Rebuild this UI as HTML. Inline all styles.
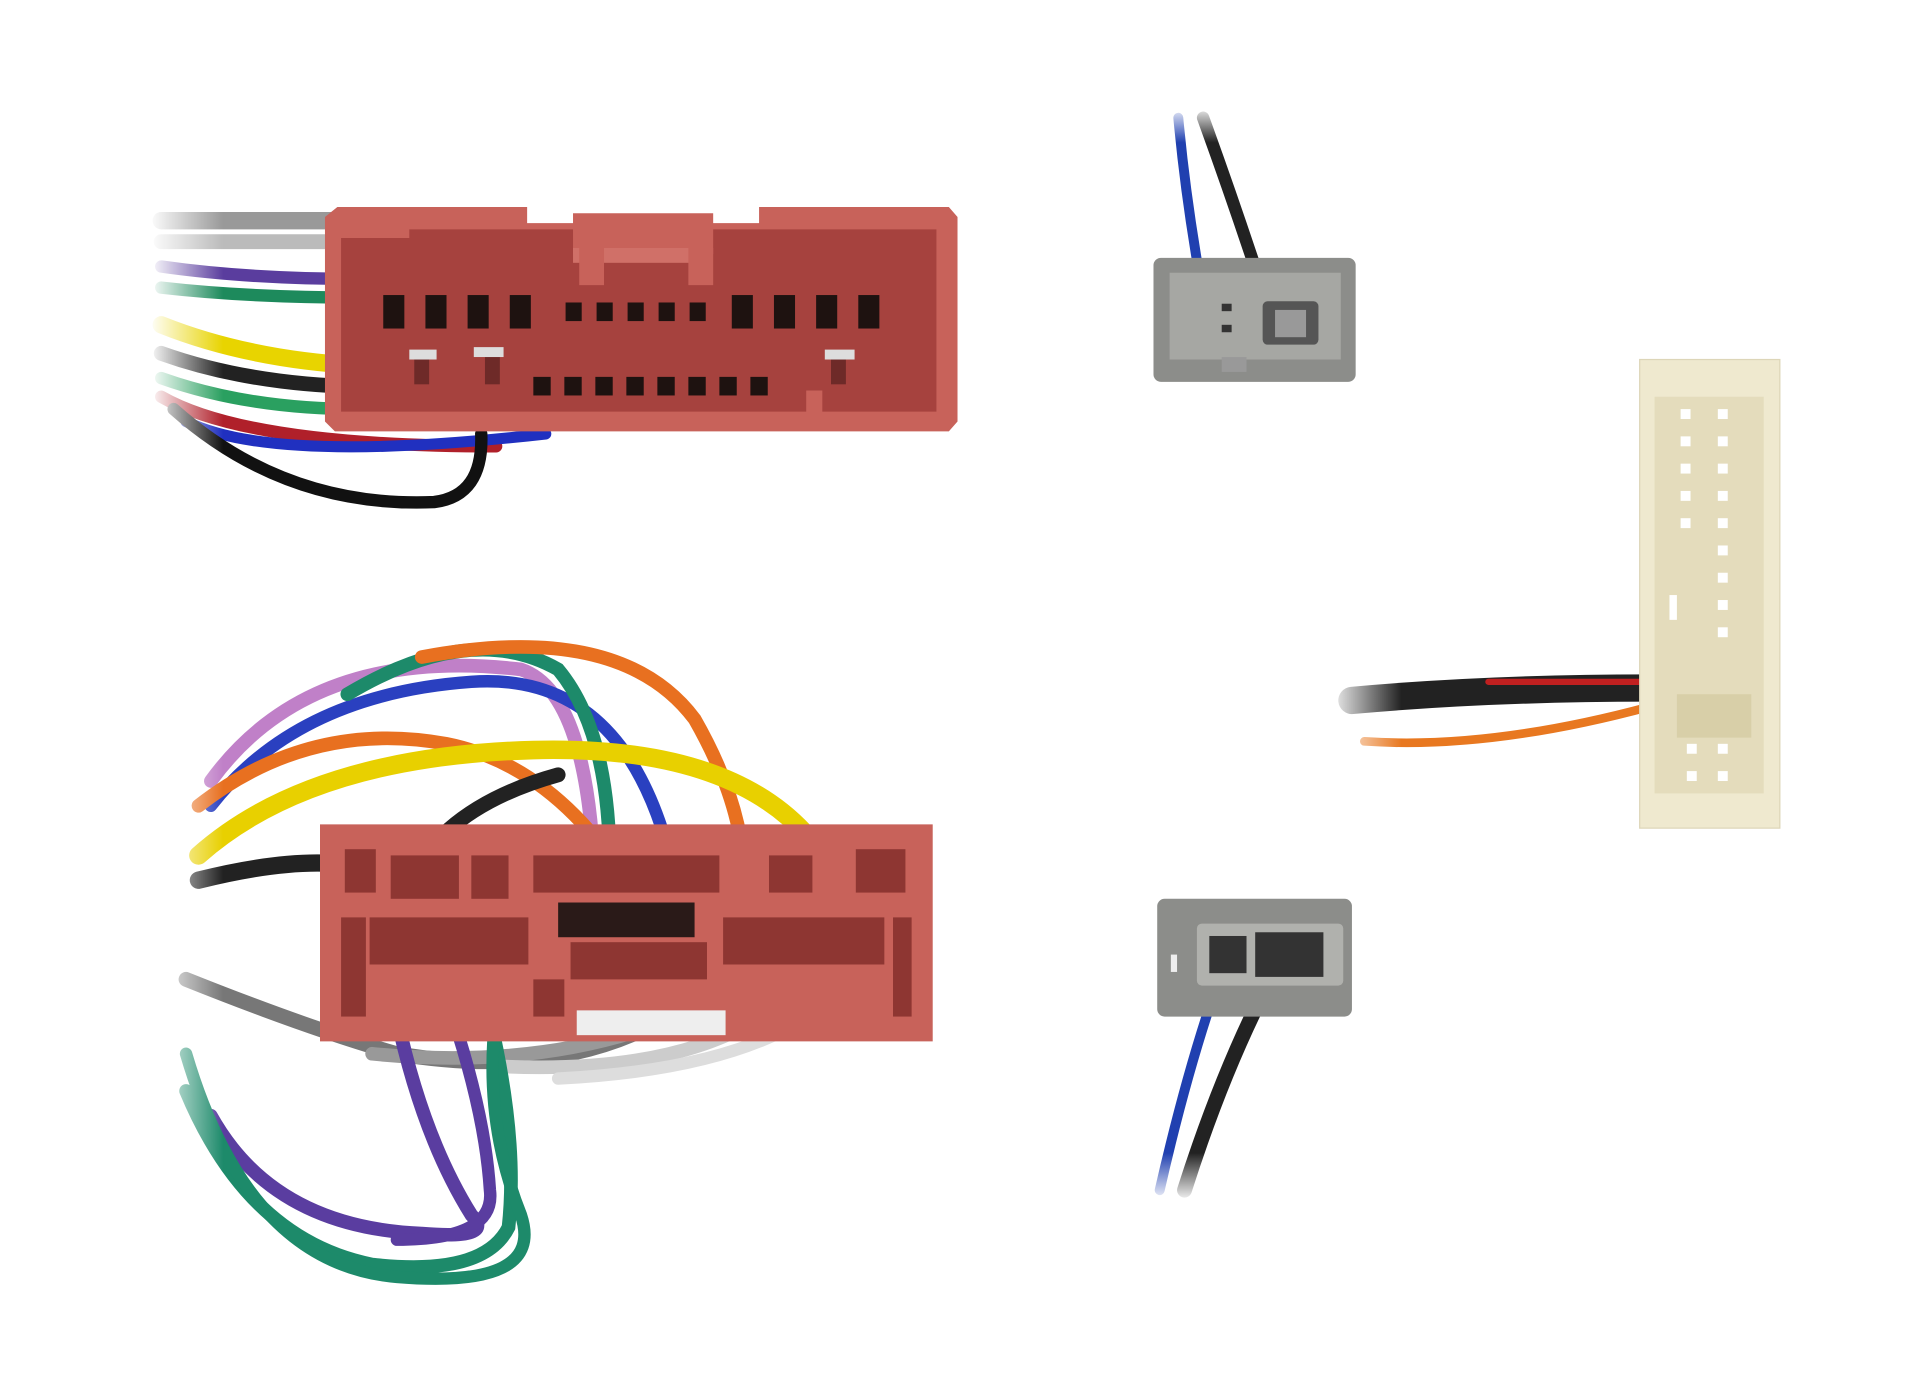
<!DOCTYPE html>
<html><head><meta charset="utf-8"><style>html,body{margin:0;padding:0;background:#fff;}svg{display:block}</style></head>
<body>
<svg width="1920" height="1386" viewBox="0 0 1548 1118" preserveAspectRatio="none" xmlns="http://www.w3.org/2000/svg">
<defs>
<linearGradient id="fadeL" x1="0" x2="1"><stop offset="0" stop-color="#fff" stop-opacity="1"/><stop offset="1" stop-color="#fff" stop-opacity="0"/></linearGradient>
<linearGradient id="fadeU" x1="0" x2="0" y1="0" y2="1"><stop offset="0" stop-color="#fff" stop-opacity="1"/><stop offset="1" stop-color="#fff" stop-opacity="0"/></linearGradient>
<linearGradient id="fadeD" x1="0" x2="0" y1="1" y2="0"><stop offset="0" stop-color="#fff" stop-opacity="1"/><stop offset="1" stop-color="#fff" stop-opacity="0"/></linearGradient>
</defs>
<g fill="none" stroke-linecap="round">
<!-- top connector wires -->
<path d="M130 178 H290" stroke="#999" stroke-width="14"/>
<path d="M130 195 H290" stroke="#bbb" stroke-width="12"/>
<path d="M130 215 Q200 225 290 225" stroke="#5a3d9e" stroke-width="10"/>
<path d="M130 232 Q200 240 290 240" stroke="#1d8a5c" stroke-width="10"/>
<path d="M130 262 Q200 290 290 295" stroke="#e8d400" stroke-width="14"/>
<path d="M130 285 Q200 310 290 312" stroke="#222" stroke-width="12"/>
<path d="M130 305 Q200 330 290 330" stroke="#2aa060" stroke-width="10"/>
<path d="M130 320 Q200 360 400 360" stroke="#b0202a" stroke-width="10"/>
<path d="M150 340 Q220 375 440 350" stroke="#2030c0" stroke-width="9"/>
<path d="M140 330 Q230 410 350 405 Q390 400 388 350" stroke="#111" stroke-width="10"/>
<!-- grey top wires -->
<path d="M950 95 Q955 150 965 210" stroke="#2040b0" stroke-width="8"/>
<path d="M970 95 Q990 150 1010 210" stroke="#222" stroke-width="10"/>
<!-- cream connector wires -->
<path d="M1090 565 Q1200 555 1330 555" stroke="#222" stroke-width="22"/>
<path d="M1200 550 H1330" stroke="#c02020" stroke-width="5"/>
<path d="M1100 598 Q1200 605 1330 570" stroke="#e87820" stroke-width="7"/>
<!-- bottom red connector wires -->
<path d="M170 630 Q250 520 420 540 Q480 560 480 745" stroke="#c080c8" stroke-width="11"/>
<path d="M170 650 Q240 560 380 550 Q520 540 550 740" stroke="#2a40c0" stroke-width="10"/>
<path d="M280 560 Q380 500 450 540 Q500 600 490 745" stroke="#1d8a6a" stroke-width="11"/>
<path d="M340 530 Q500 500 560 580 Q600 650 600 710" stroke="#e87020" stroke-width="11"/>
<path d="M160 650 Q250 580 360 600 Q460 620 525 745" stroke="#e87020" stroke-width="11"/>
<path d="M160 690 Q250 610 430 605 Q620 600 675 710" stroke="#e8d000" stroke-width="15"/>
<path d="M160 710 Q280 680 330 715" stroke="#222" stroke-width="14"/>
<path d="M330 710 Q360 650 450 625" stroke="#222" stroke-width="12"/>
<path d="M150 790 Q250 830 320 850 Q500 880 600 770" stroke="#777" stroke-width="12"/>
<path d="M300 850 Q500 870 635 770" stroke="#999" stroke-width="11"/>
<path d="M400 860 Q600 870 665 770" stroke="#ccc" stroke-width="11"/>
<path d="M450 870 Q650 860 700 770" stroke="#ddd" stroke-width="10"/>
<path d="M310 765 Q330 900 380 980 Q400 1000 340 995 Q220 990 170 900" stroke="#5a3da0" stroke-width="11"/>
<path d="M345 765 Q390 880 395 960 Q400 1000 320 1000" stroke="#5a3da0" stroke-width="10"/>
<path d="M380 765 Q420 900 410 990 Q390 1030 300 1020 Q200 1000 150 880" stroke="#1d8a6a" stroke-width="11"/>
<path d="M410 765 Q380 880 420 980 Q440 1040 320 1030 Q200 1020 150 850" stroke="#1d8a6a" stroke-width="10"/>
<!-- bottom grey wires -->
<path d="M990 770 Q960 850 935 960" stroke="#2040b0" stroke-width="8"/>
<path d="M1035 770 Q990 850 955 960" stroke="#222" stroke-width="12"/>
</g>
<!-- fades -->
<rect x="120" y="150" width="60" height="280" fill="url(#fadeL)"/>
<rect x="120" y="560" width="60" height="500" fill="url(#fadeL)"/>
<rect x="1070" y="520" width="60" height="110" fill="url(#fadeL)"/>
<rect x="920" y="85" width="120" height="30" fill="url(#fadeU)"/>
<rect x="910" y="930" width="120" height="40" fill="url(#fadeD)"/>

<!-- top red connector -->
<path d="M262 175 L272 167 L425 167 L425 180 L462 180 L462 172 L575 172 L575 180 L612 180 L612 167 L765 167 L772 175 L772 340 L765 348 L270 348 L262 340 Z" fill="#c8625a"/>
<path d="M275 192 H330 V185 H462 V205 H575 V185 H755 V332 H275 Z" fill="#a6423e"/>
<rect x="462" y="200" width="112" height="12" fill="#d07068"/>
<rect x="467" y="200" width="20" height="30" fill="#c8625a"/>
<rect x="555" y="200" width="20" height="30" fill="#c8625a"/>
<g fill="#1e1210">
<rect x="309" y="238" width="17" height="27"/><rect x="343" y="238" width="17" height="27"/><rect x="377" y="238" width="17" height="27"/><rect x="411" y="238" width="17" height="27"/>
<rect x="456" y="244" width="13" height="15"/><rect x="481" y="244" width="13" height="15"/><rect x="506" y="244" width="13" height="15"/><rect x="531" y="244" width="13" height="15"/><rect x="556" y="244" width="13" height="15"/>
<rect x="590" y="238" width="17" height="27"/><rect x="624" y="238" width="17" height="27"/><rect x="658" y="238" width="17" height="27"/><rect x="692" y="238" width="17" height="27"/>
<rect x="430" y="304" width="14" height="15"/><rect x="455" y="304" width="14" height="15"/><rect x="480" y="304" width="14" height="15"/><rect x="505" y="304" width="14" height="15"/><rect x="530" y="304" width="14" height="15"/><rect x="555" y="304" width="14" height="15"/><rect x="580" y="304" width="14" height="15"/><rect x="605" y="304" width="14" height="15"/>
</g>
<g fill="#6e2a28"><rect x="334" y="288" width="12" height="22"/><rect x="391" y="288" width="12" height="22"/><rect x="670" y="288" width="12" height="22"/></g>
<g fill="#ddd"><rect x="330" y="282" width="22" height="8"/><rect x="382" y="280" width="24" height="8"/><rect x="665" y="282" width="24" height="8"/></g>
<rect x="650" y="315" width="13" height="25" fill="#c8625a"/>

<!-- top grey connector -->
<rect x="930" y="208" width="163" height="100" rx="6" fill="#8c8d8a"/>
<rect x="943" y="220" width="138" height="70" fill="#a6a7a3"/>
<rect x="1018" y="243" width="45" height="35" rx="4" fill="#555"/>
<rect x="1028" y="250" width="25" height="22" fill="#999"/>
<rect x="985" y="245" width="8" height="6" fill="#333"/>
<rect x="985" y="262" width="8" height="6" fill="#333"/>
<rect x="985" y="288" width="20" height="12" fill="#999"/>

<!-- cream connector -->
<rect x="1322" y="290" width="113" height="378" fill="#efe9cf" stroke="#ddd6b8"/>
<rect x="1334" y="320" width="88" height="320" fill="#e4dcbc"/>
<g fill="#fff">
<rect x="1355" y="330" width="8" height="8"/><rect x="1355" y="352" width="8" height="8"/><rect x="1355" y="374" width="8" height="8"/><rect x="1355" y="396" width="8" height="8"/><rect x="1355" y="418" width="8" height="8"/>
<rect x="1385" y="330" width="8" height="8"/><rect x="1385" y="352" width="8" height="8"/><rect x="1385" y="374" width="8" height="8"/><rect x="1385" y="396" width="8" height="8"/><rect x="1385" y="418" width="8" height="8"/><rect x="1385" y="440" width="8" height="8"/><rect x="1385" y="462" width="8" height="8"/><rect x="1385" y="484" width="8" height="8"/><rect x="1385" y="506" width="8" height="8"/>
<rect x="1385" y="600" width="8" height="8"/><rect x="1385" y="622" width="8" height="8"/><rect x="1360" y="600" width="8" height="8"/><rect x="1360" y="622" width="8" height="8"/>
<rect x="1346" y="480" width="6" height="20"/>
</g>
<rect x="1352" y="560" width="60" height="35" fill="#d8cfa8"/>

<!-- bottom red connector -->
<path d="M258 665 H752 V840 H258 Z" fill="#c8625a"/>
<g fill="#8e3632">
<rect x="278" y="685" width="25" height="35"/><rect x="315" y="690" width="55" height="35"/><rect x="380" y="690" width="30" height="35"/>
<rect x="430" y="690" width="150" height="30"/><rect x="620" y="690" width="35" height="30"/><rect x="690" y="685" width="40" height="35"/>
<rect x="275" y="740" width="20" height="80"/><rect x="298" y="740" width="128" height="38"/><rect x="430" y="790" width="25" height="30"/>
<rect x="460" y="760" width="110" height="30"/><rect x="583" y="740" width="130" height="38"/><rect x="720" y="740" width="15" height="80"/>
</g>
<g fill="#2a1a18"><rect x="450" y="728" width="110" height="28"/></g>
<g fill="#eee"><rect x="465" y="815" width="120" height="20"/></g>

<!-- bottom grey connector -->
<rect x="933" y="725" width="157" height="95" rx="6" fill="#8c8d8a"/>
<rect x="965" y="745" width="118" height="50" rx="4" fill="#b0b1ad"/>
<rect x="975" y="755" width="30" height="30" fill="#333"/>
<rect x="1012" y="752" width="55" height="36" fill="#333"/>
<rect x="944" y="770" width="5" height="14" fill="#eee"/>
</svg>
</body></html>
